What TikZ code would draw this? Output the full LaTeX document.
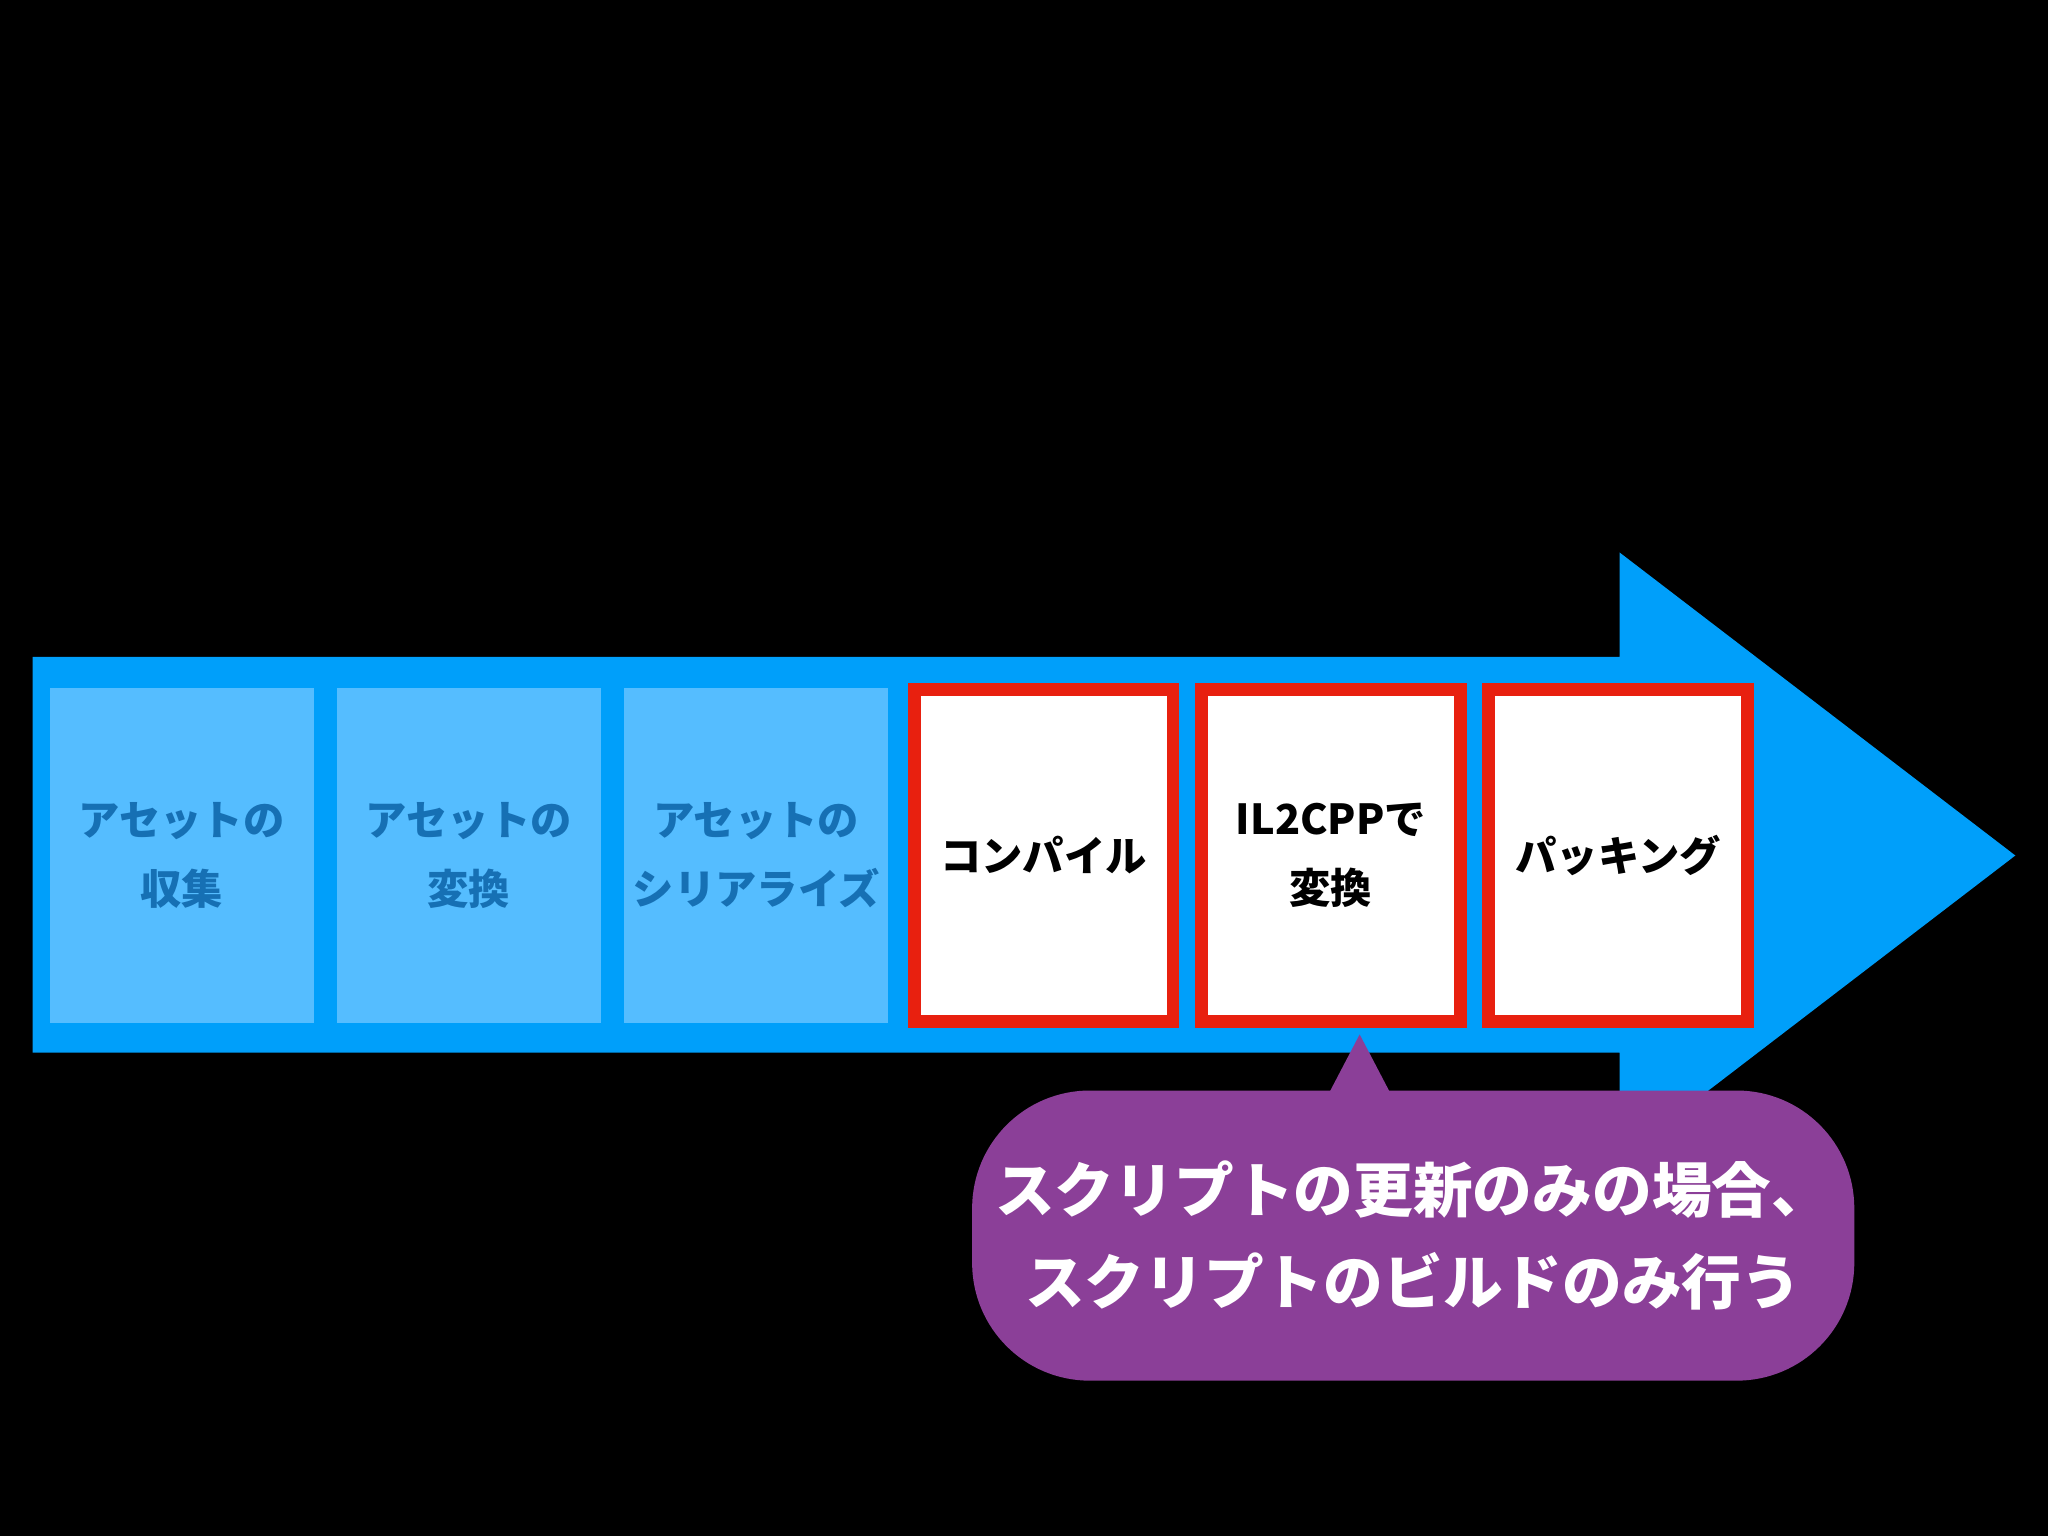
\documentclass[tikz,border=0pt]{standalone}
\usepackage{fontspec}
\newfontfamily\cjk{Noto Sans CJK JP}
\definecolor{arrowblue}{HTML}{009FFA}
\definecolor{lightblue}{HTML}{55BDFF}
\definecolor{darkblue}{HTML}{1670B4}
\definecolor{boxred}{HTML}{E8200F}
\definecolor{bubble}{HTML}{8B3F98}
\begin{document}
\begin{tikzpicture}[x=0.01cm,y=-0.01cm,
  lbox/.style={fill=lightblue,draw=none,minimum width=2.02cm,minimum height=2.56cm,inner sep=0pt,
    font=\cjk\bfseries\fontsize{9}{15}\selectfont,text=darkblue,align=center},
  wbox/.style={fill=white,draw=boxred,line width=2.8pt,minimum width=1.98cm,minimum height=2.54cm,inner sep=0pt,
    font=\cjk\bfseries\fontsize{9}{15}\selectfont,text=black,align=center}]
\fill[black] (0,0) rectangle (1568,1176);
\useasboundingbox (0,0) rectangle (1568,1176);
\fill[arrowblue] (25,503) -- (1240,503) -- (1240,423) -- (1543,655) -- (1240,887) -- (1240,806) -- (25,806) -- cycle;
\node[lbox] (b1) at (139,655) {アセットの\\収集};
\node[lbox] (b2) at (359,655) {アセットの\\変換};
\node[lbox] (b3) at (579,655) {アセットの\\シリアライズ};
\node[wbox] (b4) at (799,655) {コンパイル};
\node[wbox] (b5) at (1019,655) {IL2CPPで\\変換};
\node[wbox] (b6) at (1239,655) {パッキング};
\fill[bubble] (1018,836) -- (1041,792) -- (1064,836) -- cycle;
\node[fill=bubble,rounded corners=0.9cm,minimum width=6.75cm,minimum height=2.22cm,inner sep=0pt,
  text=white,font=\cjk\bfseries\fontsize{13}{20}\selectfont,align=center] (bub) at (1082,946)
  {スクリプトの更新のみの場合、\\スクリプトのビルドのみ行う};
\end{tikzpicture}
\end{document}
